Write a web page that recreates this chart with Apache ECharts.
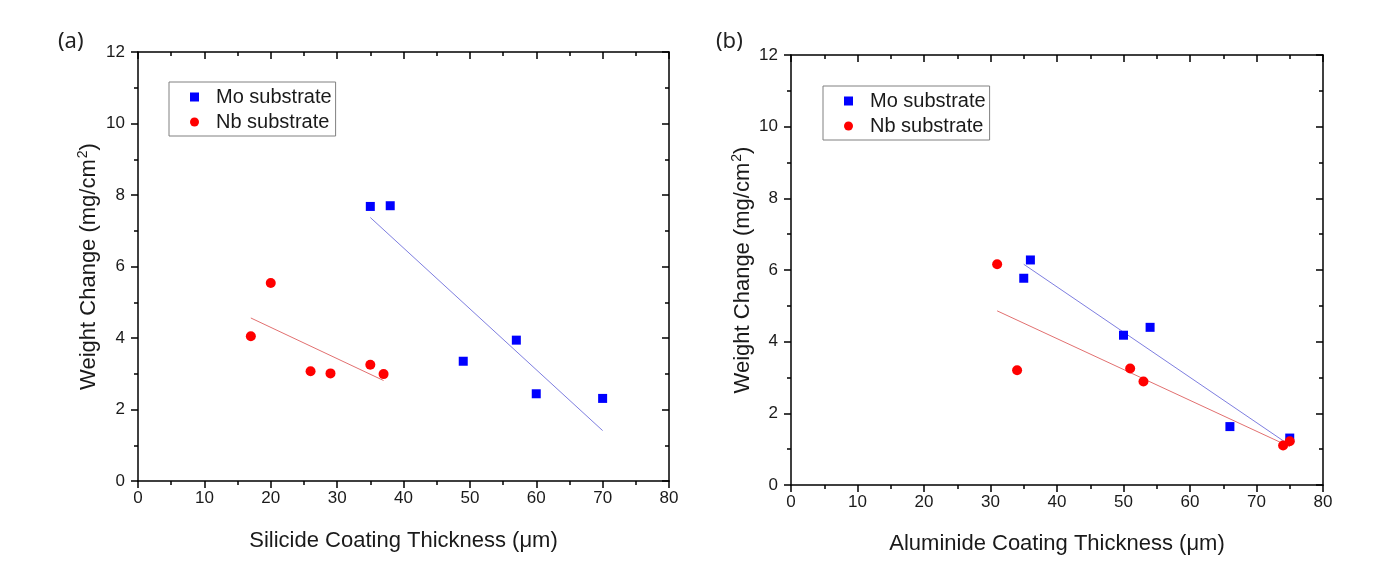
<!DOCTYPE html>
<html>
<head>
<meta charset="utf-8">
<script src="https://cdn.jsdelivr.net/npm/echarts@6/dist/echarts.min.js"></script>
<style>
html,body{margin:0;padding:0;background:#fff;}
#c{width:1389px;height:565px;}
</style>
</head>
<body>
<div id="c"></div>
<script>
// ---- data ----
const seriesNames = ['Mo substrate', 'Nb substrate'];
const panelLabels = ['(a)', '(b)'];
const xTitles = ['Silicide Coating Thickness (\u03bcm)', 'Aluminide Coating Thickness (\u03bcm)'];
const yTitle = 'Weight Change (mg/cm{sup|2})';

// (a) silicide
const moSilX = [35, 38, 49, 57, 60, 70];
const moSilY = [7.68, 7.70, 3.35, 3.94, 2.44, 2.31];
const nbSilX = [17, 20, 26, 29, 35, 37];
const nbSilY = [4.05, 5.54, 3.07, 3.01, 3.25, 2.99];
const moSilFitX = [35, 70];
const moSilFitY = [7.37, 1.41];
const nbSilFitX = [17, 37];
const nbSilFitY = [4.56, 2.81];

// (b) aluminide
const moAlX = [35, 36, 50, 54, 66, 75];
const moAlY = [5.77, 6.28, 4.18, 4.40, 1.63, 1.31];
const nbAlX = [31, 34, 51, 53, 74, 75];
const nbAlY = [6.16, 3.20, 3.25, 2.89, 1.10, 1.22];
const moAlFitX = [35, 75];
const moAlFitY = [6.16, 1.11];
const nbAlFitX = [31, 75];
const nbAlFitY = [4.86, 1.07];

const xRange = [0, 80], xStep = 10;
const yRange = [0, 12], yStep = 2;

// ---- build ----
const zip = (xs, ys) => xs.map((x, i) => [x, ys[i]]);
const FONT = 'Liberation Sans, Arial, sans-serif';
const INK = '#1a1a1a';

const grids = [
  {left: 138, top: 52, width: 531, height: 429},
  {left: 791, top: 55, width: 532, height: 430}
];

function xAxes(g, i) {
  return [
    {
      type: 'value', gridIndex: g, position: 'bottom', min: xRange[0], max: xRange[1], interval: xStep,
      name: xTitles[i], nameLocation: 'middle', nameGap: i === 0 ? 49 : 48,
      nameTextStyle: {fontFamily: FONT, fontSize: 22, color: INK},
      axisLine: {show: true, onZero: false, lineStyle: {color: '#000', width: 1.5}},
      axisTick: {show: true, inside: false, length: 7, lineStyle: {color: '#000', width: 1.5}},
      minorTick: {show: true, splitNumber: 2, length: 4, lineStyle: {color: '#000', width: 1.5}},
      axisLabel: {margin: 9, fontFamily: FONT, fontSize: 17, color: INK},
      splitLine: {show: false}
    },
    {
      type: 'value', gridIndex: g, position: 'top', min: xRange[0], max: xRange[1], interval: xStep,
      axisLine: {show: true, onZero: false, lineStyle: {color: '#000', width: 1.5}},
      axisTick: {show: true, inside: true, length: 7, lineStyle: {color: '#000', width: 1.5}},
      minorTick: {show: true, splitNumber: 2, length: 4, lineStyle: {color: '#000', width: 1.5}},
      axisLabel: {show: false},
      splitLine: {show: false}
    }
  ];
}
function yAxes(g) {
  return [
    {
      type: 'value', gridIndex: g, position: 'left', min: yRange[0], max: yRange[1], interval: yStep,
      name: yTitle, nameLocation: 'middle', nameGap: g === 0 ? 36 : 35, nameRotate: 90,
      nameTextStyle: {fontFamily: FONT, fontSize: 22, color: INK,
        rich: {sup: {fontFamily: FONT, fontSize: 14, color: INK, verticalAlign: 'top', lineHeight: 26, padding: [0, 0, 0, 1]}}},
      axisLine: {show: true, onZero: false, lineStyle: {color: '#000', width: 1.5}},
      axisTick: {show: true, inside: false, length: 7, lineStyle: {color: '#000', width: 1.5}},
      minorTick: {show: true, splitNumber: 2, length: 4, lineStyle: {color: '#000', width: 1.5}},
      axisLabel: {margin: 13, fontFamily: FONT, fontSize: 17, color: INK},
      splitLine: {show: false}
    },
    {
      type: 'value', gridIndex: g, position: 'right', min: yRange[0], max: yRange[1], interval: yStep,
      axisLine: {show: true, onZero: false, lineStyle: {color: '#000', width: 1.5}},
      axisTick: {show: true, inside: true, length: 7, lineStyle: {color: '#000', width: 1.5}},
      minorTick: {show: true, splitNumber: 2, length: 4, lineStyle: {color: '#000', width: 1.5}},
      axisLabel: {show: false},
      splitLine: {show: false}
    }
  ];
}

const BLUE = '#0000ff', RED = '#ff0000';
function fit(name, xi, yi, xs, ys, color) {
  return {type: 'line', name: name, xAxisIndex: xi, yAxisIndex: yi, data: zip(xs, ys),
    symbol: 'none', silent: true, z: 2, lineStyle: {color: color, width: 1}, itemStyle: {color: color}};
}
function pts(name, xi, yi, xs, ys, color, sym, size) {
  return {type: 'scatter', name: name, xAxisIndex: xi, yAxisIndex: yi, data: zip(xs, ys),
    symbol: sym, symbolSize: size, z: 5, itemStyle: {color: color, opacity: 1}};
}

function legend(left, top) {
  return {
    data: [{name: seriesNames[0], icon: 'rect'}, {name: seriesNames[1], icon: 'circle'}],
    orient: 'vertical', left: left, top: top,
    itemWidth: 9, itemHeight: 9, itemGap: 5,
    padding: [5, 4, 4, 21],
    borderColor: '#808080', borderWidth: 1, backgroundColor: '#fff',
    textStyle: {fontFamily: FONT, fontSize: 20, color: INK, lineHeight: 20, padding: [0, 0, 0, 12]},
    selectedMode: false
  };
}

const option = {
  backgroundColor: '#fff',
  animation: false,
  title: [
    {text: panelLabels[0], left: 53, top: 26, textStyle: {fontFamily: 'Noto Sans, sans-serif', fontWeight: 'normal', fontSize: 22, color: '#222'}},
    {text: panelLabels[1], left: 711, top: 26, textStyle: {fontFamily: 'Noto Sans, sans-serif', fontWeight: 'normal', fontSize: 22, color: '#222'}}
  ],
  legend: [legend(169, 82), legend(823, 86)],
  grid: grids,
  xAxis: [...xAxes(0, 0), ...xAxes(1, 1)],
  yAxis: [...yAxes(0), ...yAxes(1)],
  series: [
    fit('Mo fit (a)', 0, 0, moSilFitX, moSilFitY, '#7e7ee0'),
    fit('Nb fit (a)', 0, 0, nbSilFitX, nbSilFitY, '#e27070'),
    pts(seriesNames[0], 0, 0, moSilX, moSilY, BLUE, 'rect', 9),
    pts(seriesNames[1], 0, 0, nbSilX, nbSilY, RED, 'circle', 10),
    fit('Mo fit (b)', 2, 2, moAlFitX, moAlFitY, '#7e7ee0'),
    fit('Nb fit (b)', 2, 2, nbAlFitX, nbAlFitY, '#e27070'),
    pts(seriesNames[0], 2, 2, moAlX, moAlY, BLUE, 'rect', 9),
    pts(seriesNames[1], 2, 2, nbAlX, nbAlY, RED, 'circle', 10)
  ]
};

const chart = echarts.init(document.getElementById('c'), null, {renderer: 'canvas'});
chart.setOption(option);
</script>
</body>
</html>
